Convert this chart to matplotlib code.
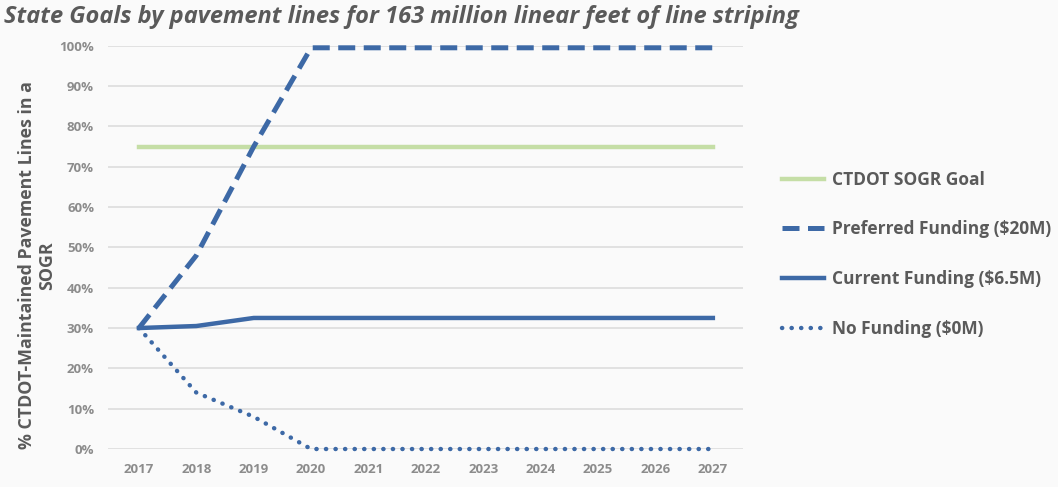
import matplotlib
matplotlib.use('Agg')
import matplotlib.pyplot as plt
from matplotlib.ticker import PercentFormatter

plt.rcParams['font.family'] = ['Open Sans', 'DejaVu Sans']

# Data
years = [2017, 2018, 2019, 2020, 2021, 2022, 2023, 2024, 2025, 2026, 2027]
sogr_goal = [75] * 11
preferred = [30, 48, 75, 99.5, 99.5, 99.5, 99.5, 99.5, 99.5, 99.5, 99.5]
current = [30, 30.5, 32.5, 32.5, 32.5, 32.5, 32.5, 32.5, 32.5, 32.5, 32.5]
no_funding = [30, 14, 8, 0, 0, 0, 0, 0, 0, 0, 0]
y_ticks = list(range(0, 101, 10))

blue = '#3d69a6'
green = '#c5dea6'
grey_txt = '#8c8c8c'
dark_txt = '#5a5a5a'

fig = plt.figure(figsize=(10.58, 4.87), dpi=100, facecolor='#fafafa')
ax = fig.add_axes([0.102, 0.078, 0.600, 0.828])
ax.set_facecolor('#fafafa')

ax.plot(years, sogr_goal, color=green, lw=3.2, label='CTDOT SOGR Goal', clip_on=False)
ax.plot(years, preferred, color=blue, lw=3.6, linestyle=(0, (3.4, 1.7)),
        label='Preferred Funding ($20M)', clip_on=False)
ax.plot(years, current, color=blue, lw=3.2, label='Current Funding ($6.5M)', clip_on=False)
ax.plot(years, no_funding, color=blue, lw=3.2, linestyle=(0, (0.05, 2.1)),
        dash_capstyle='round', label='No Funding ($0M)', clip_on=False)

ax.set_xlim(2016.46, 2027.52)
ax.set_ylim(0, 100)
ax.set_xticks(years)
ax.set_yticks(y_ticks)
ax.yaxis.set_major_formatter(PercentFormatter(decimals=0))
ax.grid(axis='y', color='#dcdcdc', lw=1.2)
ax.set_axisbelow(True)
for s in ax.spines.values():
    s.set_visible(False)
ax.tick_params(length=0, labelsize=9.5, labelcolor=grey_txt, pad=10)
for lbl in ax.get_xticklabels() + ax.get_yticklabels():
    lbl.set_fontweight('bold')

ax.set_ylabel('% CTDOT-Maintained Pavement Lines in a\nSOGR', fontsize=12.8,
              fontweight='bold', color=dark_txt, linespacing=1.1)
ax.yaxis.set_label_coords(-0.082, 0.455)

fig.text(0.004, 0.965, 'State Goals by pavement lines for 163 million linear feet of line striping',
         fontsize=17, fontweight='bold', style='italic', color=dark_txt, va='center', ha='left')

leg = fig.legend(loc='center left', bbox_to_anchor=(0.7245, 0.478), frameon=False,
                 fontsize=12.5, handlelength=2.4, labelspacing=1.82, handletextpad=0.46)
for t in leg.get_texts():
    t.set_color(dark_txt)
    t.set_fontweight('bold')

fig.savefig('out.png', dpi=100, facecolor=fig.get_facecolor())
